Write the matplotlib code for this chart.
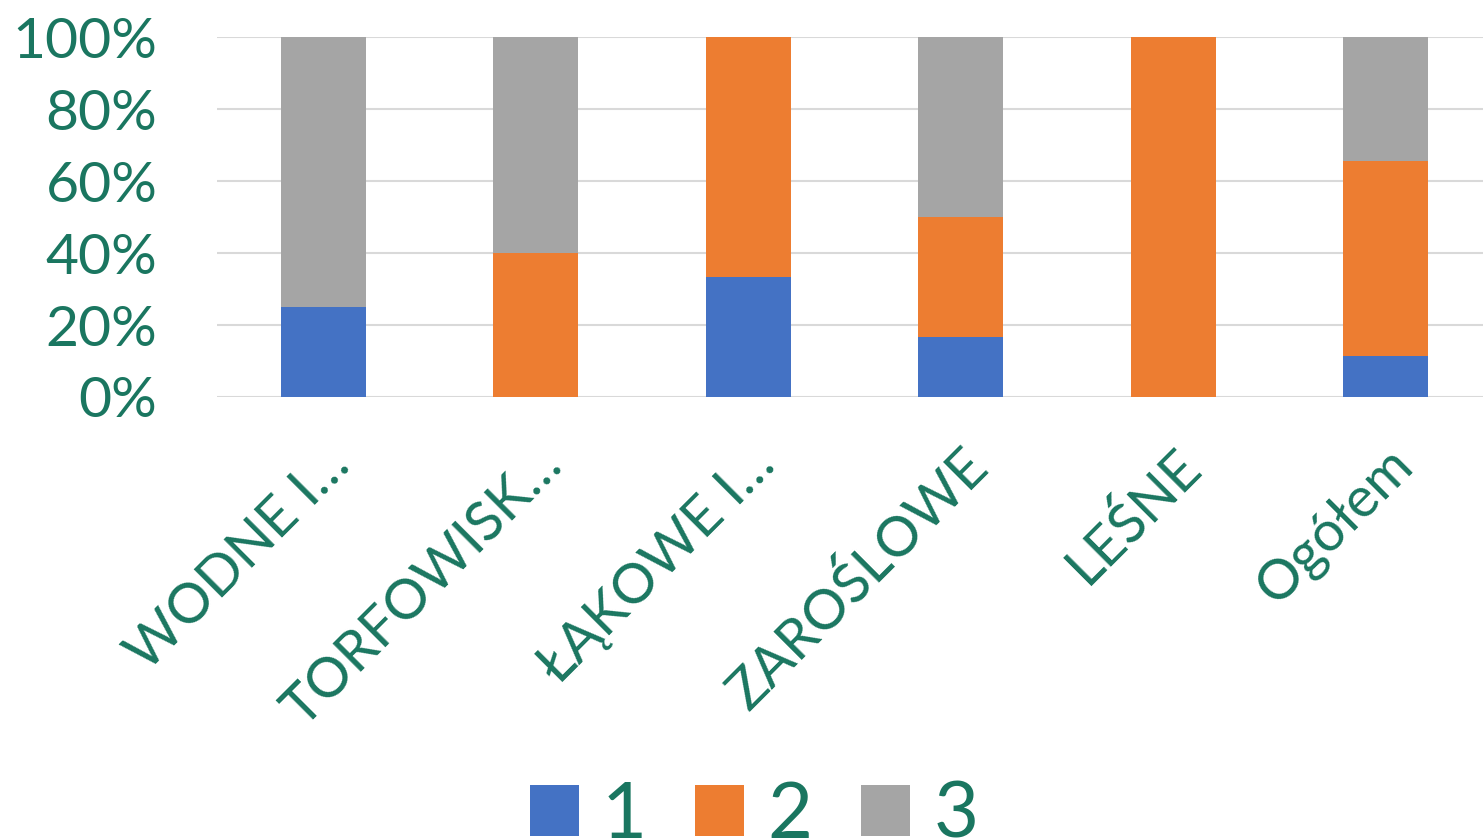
import matplotlib
matplotlib.use("Agg")
import matplotlib.pyplot as plt
from matplotlib.patches import Patch
from matplotlib.ticker import PercentFormatter
import numpy as np

categories = ["WODNE I…", "TORFOWISK…", "ŁĄKOWE I…", "ZAROŚLOWE", "LEŚNE", "Ogółem"]
s1 = [25.0, 0.0, 33.3, 16.7, 0.0, 11.4]
s2 = [0.0, 40.0, 66.7, 33.3, 100.0, 54.2]
s3 = [75.0, 60.0, 0.0, 50.0, 0.0, 34.4]
series_names = ["1", "2", "3"]
colors = ["#4472C4", "#ED7D31", "#A5A5A5"]
text_color = "#1A7660"

plt.rcParams['font.family'] = ['Lato', 'DejaVu Sans']

W, H = 1483, 839
fig = plt.figure(figsize=(W / 100, H / 100), dpi=100)
# plot area runs a little past the right edge, like the original
ax = fig.add_axes([217 / W, 1 - 397 / H, 1275 / W, 360 / H])

x = np.arange(len(categories))
bottom = np.zeros(len(categories))
for vals, c in zip([s1, s2, s3], colors):
    ax.bar(x, vals, width=0.4, bottom=bottom, color=c, zorder=3)
    bottom += np.array(vals)

ax.set_xlim(-0.5, len(categories) - 0.5)
ax.set_ylim(0, 100)
ax.set_yticks([0, 20, 40, 60, 80, 100])
ax.yaxis.set_major_formatter(PercentFormatter(decimals=0))
ax.grid(axis='y', color='#D9D9D9', linewidth=1.5, zorder=0)
ax.set_axisbelow(True)
for sp in ax.spines.values():
    sp.set_visible(False)

ax.tick_params(axis='y', length=0, labelsize=41, labelcolor=text_color, pad=43)
ax.tick_params(axis='x', length=0, labelsize=40, labelcolor=text_color, pad=30)
ax.set_xticks(x)
ax.set_xticklabels(categories, rotation=45, ha='right', va='top', rotation_mode='anchor')

handles = [Patch(facecolor=c, label=n) for c, n in zip(colors, series_names)]
fig.legend(handles=handles, loc='center', bbox_to_anchor=(754 / W, 1 - 816 / H), ncol=3,
           frameon=False, fontsize=56, labelcolor=text_color,
           handlelength=0.63, handleheight=0.63, handletextpad=0.3, columnspacing=0.62)

fig.savefig("out.png", dpi=100)
